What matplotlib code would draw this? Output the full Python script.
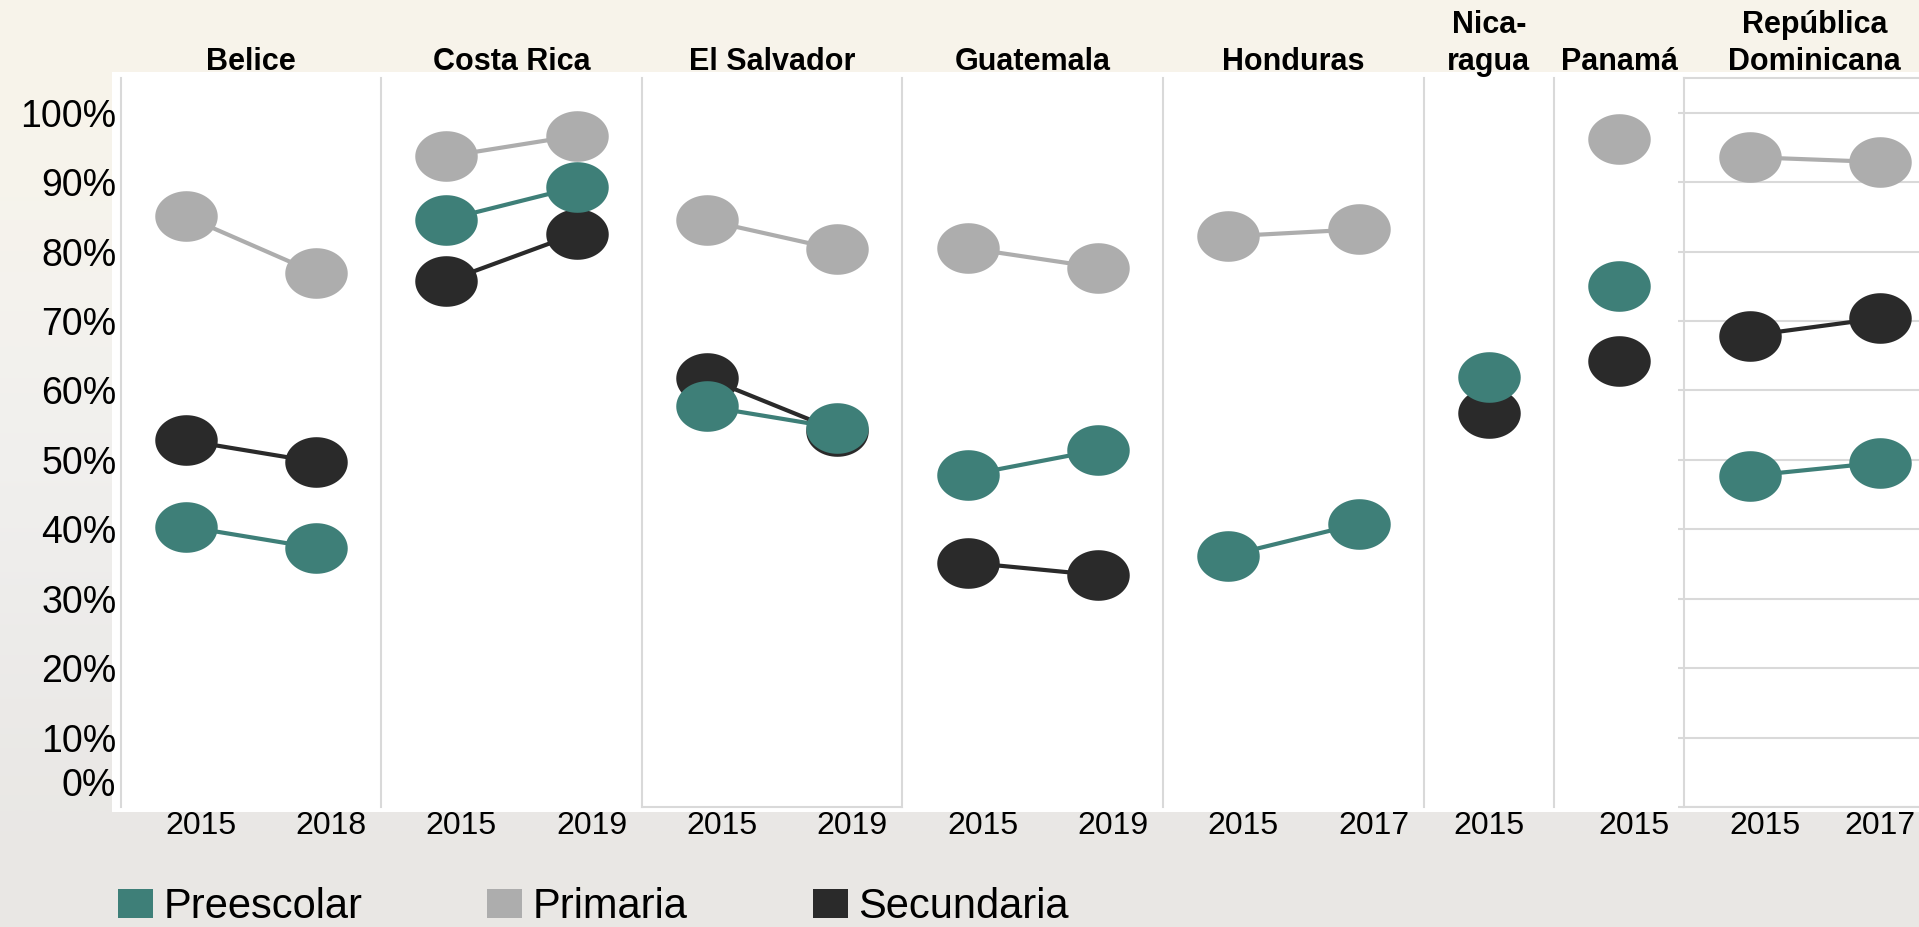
import numpy as np
import matplotlib
matplotlib.use("Agg")
import matplotlib.pyplot as plt
from matplotlib.patches import Patch, Rectangle
from matplotlib.transforms import ScaledTranslation

plt.rcParams["font.family"] = ["Liberation Sans", "DejaVu Sans"]

## data (tasa neta de matricula, %)
countries = ["Belice", "Costa Rica", "El Salvador", "Guatemala", "Honduras",
             "Nica-\nragua", "Panamá", "República\nDominicana"]
years = [["2015", "2018"], ["2015", "2019"], ["2015", "2019"], ["2015", "2019"],
         ["2015", "2017"], ["2015"], ["2015"], ["2015", "2017"]]
nan = np.nan
preescolar = [[40.4, 37.3], [84.6, 89.3], [57.7, 54.6], [47.8, 51.4],
              [36.2, 40.8], [61.9], [75.0], [47.7, 49.6]]
primaria = [[85.1, 76.9], [93.7, 96.7], [84.5, 80.3], [80.5, 77.7],
            [82.2, 83.2], [nan], [96.2], [93.6, 92.9]]
secundaria = [[52.8, 49.7], [75.7, 82.6], [61.8, 54.2], [35.2, 33.4],
              [nan, nan], [56.7], [64.3], [67.9, 70.4]]

niveles = ["Preescolar", "Primaria", "Secundaria"]
colores = {"Preescolar": "#3e7f78", "Primaria": "#adadad", "Secundaria": "#2a2a2a"}
valores = {"Preescolar": preescolar, "Primaria": primaria, "Secundaria": secundaria}
orden_dibujo = ["Secundaria", "Primaria", "Preescolar"]  # preescolar encima

gris_linea = "#d9d9d9"

# marcador eliptico (los circulos del original estan estirados)
t = np.linspace(0, 2 * np.pi, 73)
elipse = np.column_stack([np.cos(t), 0.81 * np.sin(t)])

W, H = 1919, 927
fig = plt.figure(figsize=(W / 100, H / 100), dpi=100)

# fondo (foto difuminada en el original)
fondo = fig.add_axes([0, 0, 1, 1], zorder=-2)
grad = np.array([[248, 244, 234], [243, 242, 239], [238, 237, 236], [233, 231, 228]]) / 255
fondo.imshow(grad[:, None, :], aspect="auto", extent=[0, 1, 0, 1], interpolation="bicubic")
fondo.axis("off")

fig.add_artist(Rectangle((112 / W, 1 - 812 / H), 1, (812 - 72) / H, transform=fig.transFigure,
                         facecolor="white", edgecolor="none", zorder=-1))

gs = fig.add_gridspec(1, len(countries), width_ratios=[len(y) for y in years],
                      left=120.5 / W, right=1945 / W, bottom=1 - 807 / H, top=1 - 78 / H,
                      wspace=0)

# px, las etiquetas de año del original estan algo corridas
desplaz_etiqueta = [[15, 15], [15, 15], [15, 15], [15, 15], [15, 15], [0], [15], [15, 0]]

for i, pais in enumerate(countries):
    ax = fig.add_subplot(gs[0, i])
    n = len(years[i])
    x = np.arange(n)
    for nivel in orden_dibujo:
        ax.plot(x, valores[nivel][i], color=colores[nivel], lw=3, marker=elipse,
                ms=45, mew=0, solid_capstyle="butt")
    ax.set_xlim(-0.5, n - 0.5)
    ax.set_ylim(0, 105)
    ax.set_facecolor("white")
    ax.set_axisbelow(True)

    for lado in ["top", "right", "bottom"]:
        ax.spines[lado].set_visible(False)
    for sp in ax.spines.values():
        sp.set_color(gris_linea)
        sp.set_linewidth(1.5)

    ax.set_xticks(x, years[i])
    ax.tick_params(axis="x", length=0, pad=3, labelsize=23)
    for lab, dx in zip(ax.get_xticklabels(), desplaz_etiqueta[i]):
        lab.set_transform(lab.get_transform()
                          + ScaledTranslation(dx / 100, 0, fig.dpi_scale_trans))

    ax.set_title(pais, fontsize=22, fontweight="bold", pad=6, linespacing=1.3)

    if i == 0:
        ax.set_yticks(np.arange(0, 101, 10), [f"{v}%" for v in range(0, 101, 10)])
        ax.tick_params(axis="y", length=0, pad=3, labelsize=27)
        cero = ax.get_yticklabels()[0]
        cero.set_transform(cero.get_transform() + ScaledTranslation(0, 0.25, fig.dpi_scale_trans))
    elif pais.startswith("República"):
        ax.set_yticks(np.arange(0, 101, 10))
        ax.tick_params(axis="y", length=4, width=1.5, color=gris_linea, labelleft=False)
        ax.grid(axis="y", color=gris_linea, lw=1.5)
        for lado in ["top", "bottom", "right"]:
            ax.spines[lado].set_visible(True)
    else:
        ax.set_yticks([])
        if pais == "El Salvador":
            ax.spines["bottom"].set_visible(True)

handles = [Patch(facecolor=colores[nv], edgecolor="none", label=nv) for nv in niveles]
fig.legend(handles=handles, loc="center left", bbox_to_anchor=(118 / W, 1 - 907 / H),
           ncol=3, frameon=False, fontsize=30, handlelength=0.84, handleheight=0.68,
           handletextpad=0.25, columnspacing=3.0, borderpad=0, borderaxespad=0)

fig.savefig("out.png", dpi=100, facecolor=fig.get_facecolor())
